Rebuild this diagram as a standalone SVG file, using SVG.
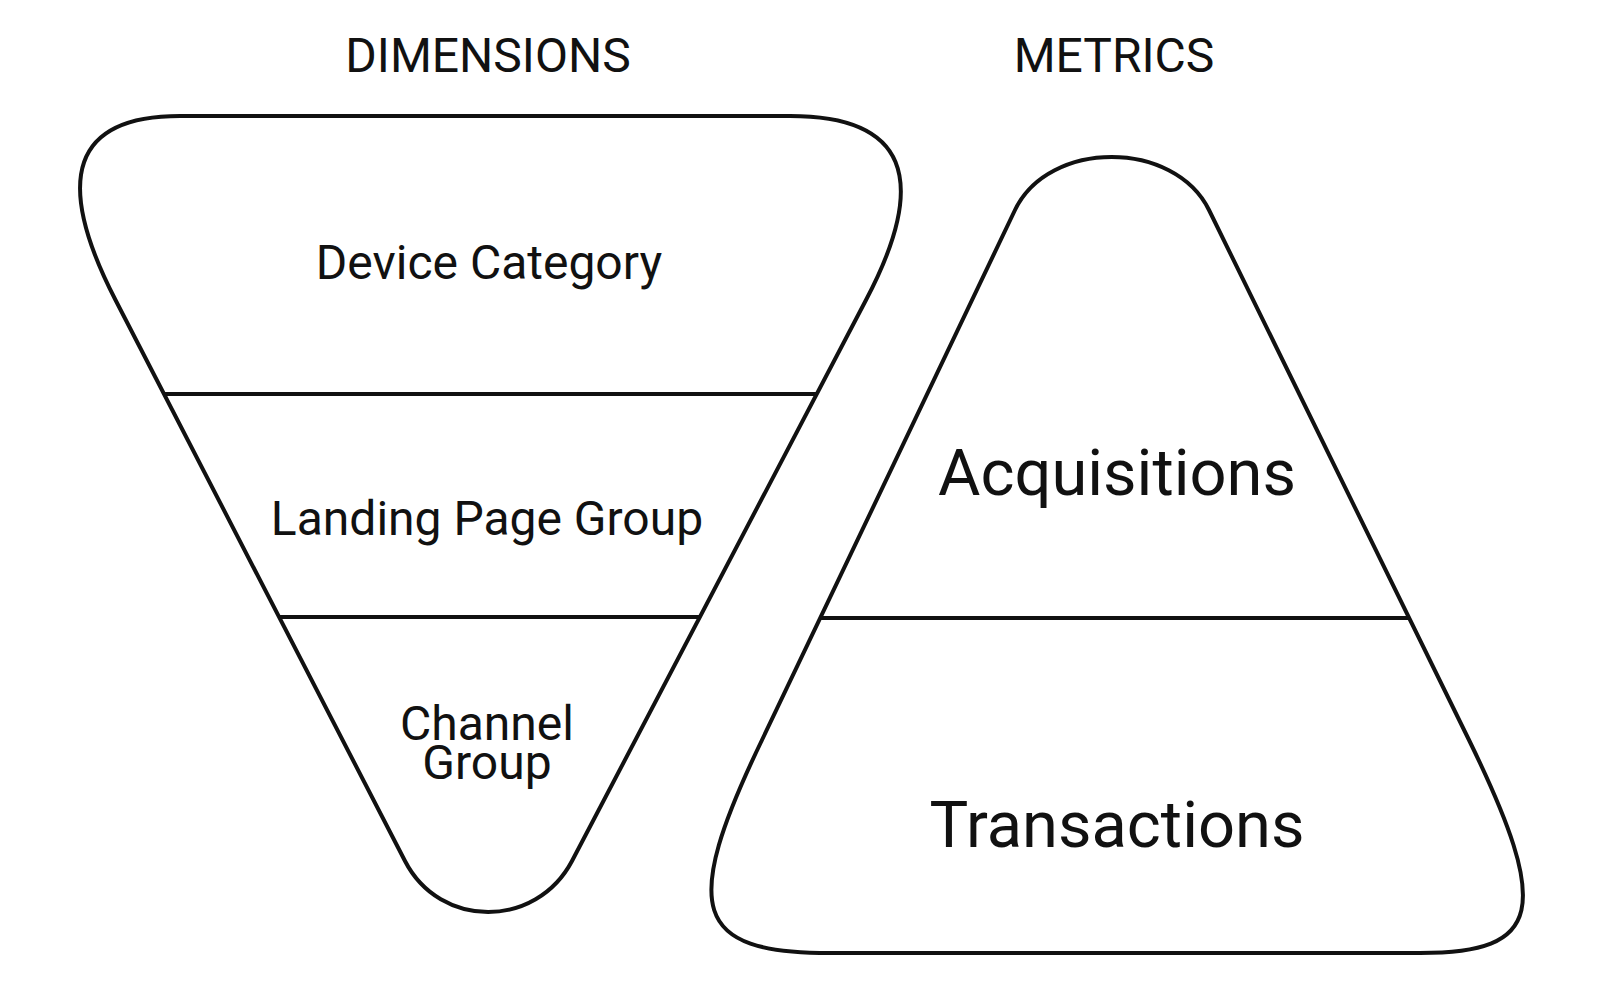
<svg xmlns="http://www.w3.org/2000/svg" width="1600" height="987" viewBox="0 0 1600 987">
<style>
.s{fill:none;stroke:#111;stroke-width:4;stroke-linejoin:round}
text{font-family:Roboto,"Liberation Sans",sans-serif;fill:#111;text-anchor:middle}
.h{font-size:48px}.m{font-size:48px}.b{font-size:65px}
</style>
<rect width="1600" height="987" fill="#fff"/>
<text class="h" x="488" y="72">DIMENSIONS</text>
<text class="h" x="1114" y="72">METRICS</text>
<g id="dimensions">
<path class="s" d="M180 116 L790 116 Q963 116 866 300 L572 861 C536 929 440 929 405 861 L115.5 300 Q20.5 116 180 116 Z"/>
<text class="m" x="489" y="279">Device Category</text>
<text class="m" x="487" y="535">Landing Page Group</text>
<text class="m" x="487" y="740">Channel</text>
<text class="m" x="487" y="779">Group</text>
</g>
<g id="metrics">
<path class="s" d="M1015 210 C1049 139.4 1174 139.4 1209 210 L1469 740 C1552 910 1542 953 1420 953 L830 953 C694 953 680 910 762 740 Z"/>
<text class="b" x="1117" y="495">Acquisitions</text>
<text class="b" x="1117" y="847">Transactions</text>
</g>
<g id="connectors">
<line class="s" x1="164" y1="394" x2="817" y2="394"/>
<line class="s" x1="279" y1="617" x2="700" y2="617"/>
<line class="s" x1="820" y1="618" x2="1409" y2="618"/>
</g>
</svg>
